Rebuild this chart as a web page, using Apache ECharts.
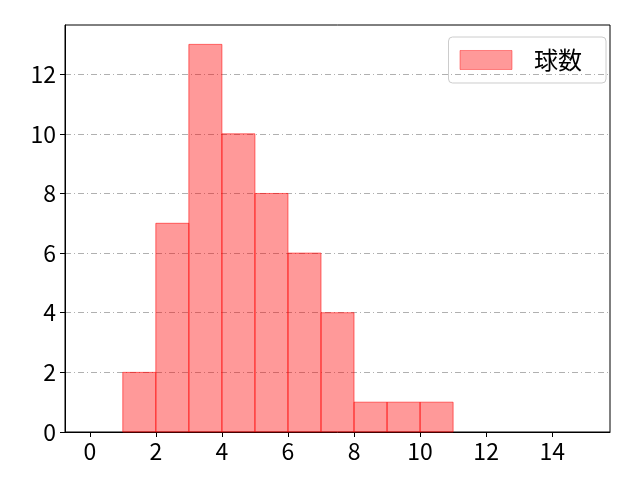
<!DOCTYPE html>
<html><head><meta charset="utf-8">
<script src="https://cdn.jsdelivr.net/npm/echarts@6/dist/echarts.min.js"></script>
<style>html,body{margin:0;padding:0;background:#fff}#c{width:640px;height:480px}</style>
</head><body><div id="c"></div>
<script>
var binStarts = [1, 2, 3, 4, 5, 6, 7, 8, 9, 10];
var binWidth = 1;
var counts = [2, 7, 13, 10, 8, 6, 4, 1, 1, 1];
var xTicks = [0, 2, 4, 6, 8, 10, 12, 14];
var yTicks = [0, 2, 4, 6, 8, 10, 12];
var seriesName = '球数';

var font = '"Noto Sans CJK JP", "DejaVu Sans", sans-serif';
var data = binStarts.map(function (s, i) { return [s, s + binWidth, counts[i]]; });

var chart = echarts.init(document.getElementById('c'), null, {renderer: 'canvas'});
chart.setOption({
  animation: false,
  backgroundColor: '#fff',
  grid: {left: 65, right: 30, top: 25, bottom: 48, show: true, borderColor: '#000', borderWidth: 1, containLabel: false},
  legend: {
    right: 34, top: 37,
    data: [{name: seriesName, icon: 'rect'}],
    itemWidth: 52, itemHeight: 19,
    padding: [11, 24, 11, 11],
    borderColor: '#cccccc', borderWidth: 1, borderRadius: 4,
    textStyle: {fontFamily: font, fontSize: 24, color: '#000', padding: [0, 0, 0, 17]},
    itemStyle: {color: 'rgba(255,0,0,0.4)', borderColor: 'rgba(255,0,0,0.4)', borderWidth: 1}
  },
  xAxis: {
    type: 'value', min: -0.75, max: 15.75,
    axisLine: {show: true, onZero: false, lineStyle: {color: '#000', width: 1}},
    axisTick: {show: true, length: 5, customValues: xTicks, lineStyle: {color: '#000'}},
    axisLabel: {customValues: xTicks, fontFamily: font, fontSize: 23, color: '#000', margin: 8},
    splitLine: {show: false}
  },
  yAxis: {
    type: 'value', min: 0, max: 13.65,
    axisLine: {show: true, onZero: false, lineStyle: {color: '#000', width: 1}},
    axisTick: {show: true, length: 5, customValues: yTicks, lineStyle: {color: '#000'}},
    axisLabel: {customValues: yTicks, fontFamily: font, fontSize: 23, color: '#000', margin: 9},
    splitLine: {show: true, lineStyle: {color: '#b0b0b0', width: 1, type: [6, 3, 1, 3]}}
  },
  series: [{
    name: seriesName,
    type: 'custom',
    encode: {x: [0, 1], y: 2},
    data: data,
    renderItem: function (params, api) {
      var p0 = api.coord([api.value(0), api.value(2)]);
      var p1 = api.coord([api.value(1), 0]);
      return {
        type: 'rect',
        shape: {x: p0[0], y: p0[1], width: p1[0] - p0[0], height: p1[1] - p0[1]},
        style: {fill: 'rgba(255,0,0,0.4)', stroke: 'rgba(255,0,0,0.55)', lineWidth: 1}
      };
    }
  }]
});
</script></body></html>
